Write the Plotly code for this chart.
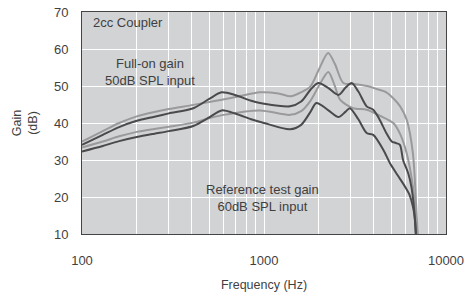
import plotly.graph_objects as go

# Full-on gain, light curve
fullon_light_f = [100, 130, 160, 200, 250, 300, 409, 500, 700, 950, 1200, 1400, 1600, 1800, 2000, 2250, 2450, 2730, 3200, 3700, 4150, 4700, 5130, 5600, 6080, 6580, 6850, 6990]
fullon_light_g = [35, 37.8, 40, 41.8, 43, 43.8, 44.9, 45.7, 47, 48.3, 48, 47.2, 48.3, 49.9, 54.4, 58.9, 56, 50.8, 50.5, 50, 49.2, 48.3, 46.7, 44.5, 40.9, 31.8, 18, 10]

# Full-on gain, dark curve
fullon_dark_f = [100, 130, 160, 200, 250, 300, 409, 500, 585, 700, 850, 1000, 1390, 1600, 1800, 1987, 2250, 2565, 2800, 3031, 3300, 3666, 3984, 4320, 4700, 5030, 5300, 5580, 5810, 6200, 6450, 6660, 6830]
fullon_dark_g = [34.1, 36.8, 38.9, 40.6, 41.7, 42.6, 44, 46.5, 48.3, 47.5, 46, 45.2, 44.5, 45.8, 49, 50.8, 49.5, 47.6, 49.5, 50.8, 48.5, 44.5, 43.6, 40.9, 37.3, 35, 34.6, 34.1, 30, 26.4, 22.8, 17.4, 10]

# Reference test gain, light curve
ref_light_f = [100, 130, 160, 200, 250, 300, 409, 500, 600, 950, 1390, 1600, 1800, 2000, 2256, 2450, 2616, 3090, 3666, 4320, 5135, 5600, 6080, 6580, 6970]
ref_light_g = [33.4, 35, 36.4, 37.6, 38.4, 39, 40.1, 41.3, 42.2, 43.4, 42.2, 43.2, 46, 50, 53.8, 50, 46.3, 44, 43.6, 42, 40, 37, 31.8, 22.8, 10]

# Reference test gain, dark curve
ref_dark_f = [100, 130, 160, 200, 250, 300, 409, 500, 585, 700, 850, 1000, 1390, 1600, 1800, 1940, 2250, 2565, 2800, 2960, 3300, 3666, 3984, 4530, 4925, 5400, 5953, 6310, 6580, 6750, 6830]
ref_dark_g = [32.3, 33.8, 35.1, 36.2, 37.1, 37.8, 39.2, 41.5, 43.4, 42.5, 41, 40, 38.3, 39.5, 43, 45.4, 43.5, 41.6, 43, 44, 41, 37.3, 36.8, 32.7, 29.1, 26, 22.8, 20.5, 17.4, 14, 10]

x_tickvals = [100, 1000, 10000]
x_ticktext = ["100", "1000", "10000"]
x_minor = [200, 300, 400, 500, 600, 700, 800, 900, 2000, 3000, 4000, 5000, 6000, 7000, 8000, 9000]
y_tickvals = [10, 20, 30, 40, 50, 60, 70]

LIGHT = "#9a9a9c"
DARK = "#4a4a4c"

fig = go.Figure()
for f, g, c in [(fullon_light_f, fullon_light_g, LIGHT),
                (ref_light_f, ref_light_g, LIGHT),
                (fullon_dark_f, fullon_dark_g, DARK),
                (ref_dark_f, ref_dark_g, DARK)]:
    fig.add_trace(go.Scatter(x=f, y=g, mode="lines",
                             line=dict(color=c, width=2, shape="spline", smoothing=0.8),
                             showlegend=False, hoverinfo="skip"))

txt = dict(family="Liberation Sans, Arial, sans-serif", size=13, color="#3f3f3f")

fig.update_layout(
    width=467, height=292,
    margin=dict(l=82, r=21, t=12, b=58),
    paper_bgcolor="white",
    plot_bgcolor="#d2d3d5",
    font=txt,
    xaxis=dict(type="log", range=[2, 4], tickvals=x_tickvals, ticktext=x_ticktext,
               showgrid=True, gridcolor="white", gridwidth=1,
               minor=dict(tickvals=x_minor, showgrid=True, gridcolor="white", gridwidth=1),
               showline=True, linecolor="#444", linewidth=1, mirror=True,
               ticks="", ticklabelstandoff=14, zeroline=False, automargin=False,
               ticklabeloverflow="allow",
               title=dict(text="Frequency (Hz)", standoff=14, font=dict(size=12.5))),
    yaxis=dict(range=[10, 70], tickvals=y_tickvals,
               showgrid=True, gridcolor="white", gridwidth=1,
               showline=True, linecolor="#444", linewidth=1, mirror=True,
               ticks="", ticklabelstandoff=10, zeroline=False, automargin=False,
               title=dict(text="Gain<br>(dB)", standoff=13, font=dict(size=12.5))),
)

fig.add_annotation(x=0.026, y=1 - 0.047, xref="paper", yref="paper", text="2cc Coupler",
                   showarrow=False, xanchor="left", yanchor="middle", font=txt)
fig.add_annotation(x=(150 - 82) / 364, y=(234 - 72) / 222, xref="paper", yref="paper",
                   text="Full-on gain<br>50dB SPL input", showarrow=False,
                   xanchor="center", yanchor="middle", font=txt)
fig.add_annotation(x=(262 - 82) / 364, y=(234 - 198) / 222, xref="paper", yref="paper",
                   text="Reference test gain<br>60dB SPL input", showarrow=False,
                   xanchor="center", yanchor="middle", font=txt)

fig.write_html("out.html", config={"displayModeBar": False, "staticPlot": True})

# remove the default page margin so the figure sits at the window's top-left corner
with open("out.html", "r", encoding="utf-8") as fh:
    html = fh.read()
html = html.replace("<head>", "<head><style>html,body{margin:0;padding:0;overflow:hidden;}</style>", 1)
with open("out.html", "w", encoding="utf-8") as fh:
    fh.write(html)
